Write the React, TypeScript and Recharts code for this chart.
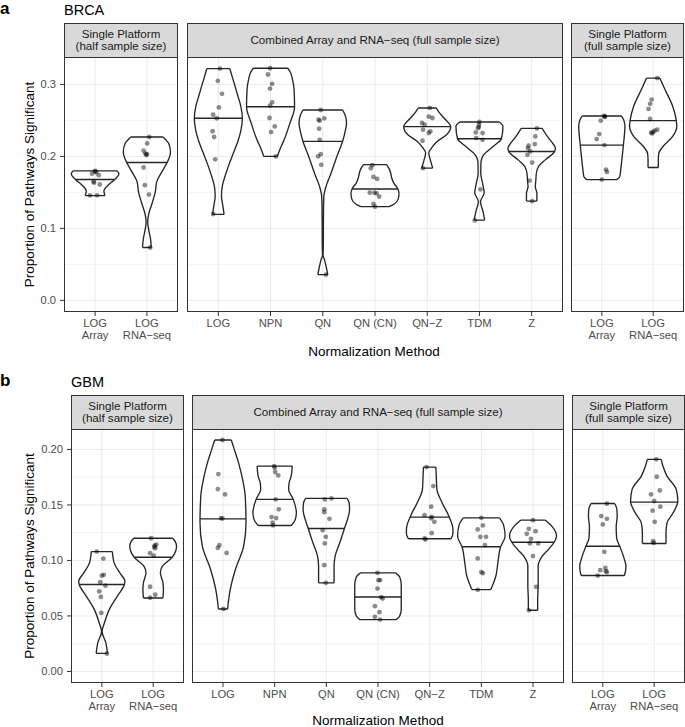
import React from "react";
import { ComposedChart, Line, Scatter, XAxis, YAxis, CartesianGrid } from "recharts";

type Pair = [number, number];

const FONT = "'Liberation Sans', Arial, Helvetica, sans-serif";

// ---------- shared categories ----------
const singleCats = ["LOG\nArray", "LOG\nRNA\u2212seq"];
const combinedCats = ["LOG", "NPN", "QN", "QN (CN)", "QN\u2212Z", "TDM", "Z"];

// ---------- BRCA (panel a) ----------
// violin outlines: [value, half width in category units]
const brcaHalfViolins: Pair[][] = [
  [[0.1455, 0.19], [0.152, 0.17], [0.16, 0.25], [0.168, 0.38], [0.176, 0.46], [0.18, 0.42]],
  [[0.0735, 0.085], [0.085, 0.07], [0.1, 0.03], [0.109, 0.015], [0.12, 0.035], [0.135, 0.1], [0.15, 0.16], [0.165, 0.19], [0.18, 0.3], [0.1915, 0.39], [0.2, 0.44], [0.207, 0.455], [0.218, 0.42], [0.227, 0.31]],
];
const brcaHalfMedians = [0.168, 0.1915];
const brcaHalfMedianW = [0.38, 0.39];
const brcaHalfPoints: Pair[][] = [
  [[0, 0.18], [-0.06, 0.176], [0.07, 0.174], [0.02, 0.178], [-0.02, 0.1636], [0.09, 0.161], [-0.1, 0.146], [0.04, 0.146], [-0.03, 0.165], [0, 0.179]],
  [[0.045, 0.227], [0.006, 0.218], [-0.064, 0.208], [-0.03, 0.204], [0, 0.203], [-0.064, 0.1846], [-0.04, 0.16], [0.04, 0.147], [0.064, 0.0735], [-0.01, 0.202]],
];

const brcaCombViolins: Pair[][] = [
  [[0.1195, 0.11], [0.13, 0.09], [0.145, 0.06], [0.16, 0.08], [0.175, 0.14], [0.19, 0.21], [0.205, 0.29], [0.22, 0.37], [0.235, 0.43], [0.253, 0.46], [0.27, 0.43], [0.285, 0.37], [0.3, 0.31], [0.312, 0.26], [0.322, 0.22]],
  [[0.2, 0.13], [0.21, 0.18], [0.223, 0.26], [0.246, 0.37], [0.269, 0.46], [0.293, 0.45], [0.307, 0.42], [0.317, 0.38], [0.3225, 0.33]],
  [[0.0358, 0.095], [0.045, 0.07], [0.056, 0.035], [0.063, 0.005], [0.075, 0.01], [0.107, 0.012], [0.13, 0.015], [0.144, 0.02], [0.158, 0.06], [0.177, 0.16], [0.2, 0.27], [0.221, 0.38], [0.235, 0.43], [0.2465, 0.455], [0.257, 0.43], [0.2645, 0.38]],
  [[0.1302, 0.27], [0.134, 0.37], [0.14, 0.44], [0.148, 0.46], [0.1548, 0.44], [0.163, 0.36], [0.17, 0.32], [0.177, 0.3], [0.183, 0.27], [0.1887, 0.22]],
  [[0.1837, 0.105], [0.1953, 0.06], [0.2046, 0.03], [0.2115, 0.08], [0.2208, 0.19], [0.2301, 0.37], [0.2413, 0.45], [0.2534, 0.32], [0.262, 0.22], [0.2673, 0.17]],
  [[0.1116, 0.1], [0.1231, 0.07], [0.137, 0.02], [0.1496, 0.09], [0.1626, 0.06], [0.1766, 0.025], [0.1929, 0.03], [0.2022, 0.08], [0.2138, 0.26], [0.2245, 0.42], [0.2417, 0.45], [0.2478, 0.38]],
  [[0.138, 0.1], [0.1487, 0.1], [0.158, 0.07], [0.1673, 0.08], [0.1766, 0.09], [0.1859, 0.13], [0.1952, 0.26], [0.2069, 0.44], [0.2115, 0.455], [0.2185, 0.4], [0.2278, 0.3], [0.2389, 0.2]],
];
const brcaCombMedians = [0.253, 0.269, 0.2208, 0.1548, 0.2413, 0.2245, 0.2069];
const brcaCombMedianW = [0.45, 0.46, 0.38, 0.44, 0.45, 0.42, 0.44];
const brcaCombPoints: Pair[][] = [
  [[0.03, 0.322], [-0.01, 0.305], [0.07, 0.287], [0.01, 0.268], [-0.1, 0.258], [-0.03, 0.253], [-0.11, 0.235], [-0.08, 0.227], [-0.06, 0.196], [-0.1, 0.12]],
  [[-0.01, 0.3225], [-0.05, 0.3138], [0.03, 0.3008], [-0.01, 0.2943], [0.03, 0.2752], [-0.01, 0.2706], [-0.02, 0.2534], [0.08, 0.2417], [0.01, 0.2338], [0.1, 0.2]],
  [[-0.04, 0.2645], [-0.08, 0.251], [0.03, 0.2529], [-0.06, 0.2496], [-0.07, 0.2385], [-0.06, 0.2231], [-0.04, 0.2031], [-0.09, 0.2], [-0.03, 0.1883], [0.06, 0.0358]],
  [[-0.05, 0.1878], [-0.08, 0.1836], [-0.03, 0.1715], [0.04, 0.1687], [-0.1, 0.1497], [-0.01, 0.1497], [0.03, 0.1488], [0.08, 0.1441], [-0.03, 0.1339], [0, 0.1302]],
  [[0.05, 0.2673], [-0.1, 0.2464], [-0.05, 0.2441], [0.03, 0.2552], [0.1, 0.2534], [-0.08, 0.2371], [0.06, 0.2348], [0.03, 0.2325], [-0.09, 0.2218], [-0.08, 0.1837]],
  [[0, 0.2478], [-0.01, 0.2408], [-0.03, 0.2394], [-0.01, 0.2441], [-0.07, 0.2334], [0.06, 0.2324], [-0.06, 0.2255], [0.06, 0.2231], [0.02, 0.1543], [-0.09, 0.1111]],
  [[0.1, 0.2389], [0.07, 0.2278], [-0.06, 0.2148], [-0.07, 0.2115], [0.06, 0.2171], [-0.08, 0.2022], [-0.03, 0.2069], [0.01, 0.1915], [-0.04, 0.1664], [0.01, 0.138]],
];

const brcaFullViolins: Pair[][] = [
  [[0.1678, 0.29], [0.172, 0.35], [0.1767, 0.36], [0.1953, 0.39], [0.2157, 0.42], [0.23, 0.44], [0.2417, 0.45], [0.25, 0.43], [0.2562, 0.38]],
  [[0.1846, 0.1], [0.1952, 0.1], [0.2045, 0.11], [0.2138, 0.19], [0.2278, 0.38], [0.2418, 0.46], [0.2497, 0.45], [0.2697, 0.38], [0.2929, 0.23], [0.3087, 0.13]],
];
const brcaFullMedians = [0.2157, 0.2497];
const brcaFullMedianW = [0.42, 0.45];
const brcaFullPoints: Pair[][] = [
  [[0.04, 0.2562], [-0.02, 0.2497], [0.06, 0.2548], [-0.05, 0.2311], [-0.1, 0.2241], [0.05, 0.2157], [0.08, 0.1818], [0.1, 0.1785], [0, 0.1678], [0.06, 0.2555]],
  [[0.08, 0.3087], [-0.03, 0.279], [-0.06, 0.273], [-0.09, 0.266], [-0.06, 0.252], [-0.04, 0.233], [0.08, 0.2371], [0.03, 0.2357], [-0.02, 0.232], [0, 0.234]],
];

// ---------- GBM (panel b) ----------
const gbmHalfViolins: Pair[][] = [
  [[0.0163, 0.11], [0.0256, 0.08], [0.0361, 0.005], [0.0436, 0.05], [0.0557, 0.145], [0.0677, 0.3], [0.0783, 0.44], [0.0812, 0.45], [0.0888, 0.35], [0.0978, 0.24], [0.108, 0.205]],
  [[0.0662, 0.19], [0.0738, 0.2], [0.0798, 0.19], [0.0888, 0.14], [0.0948, 0.18], [0.1029, 0.37], [0.1128, 0.455], [0.117, 0.43], [0.12, 0.38]],
];
const gbmHalfMedians = [0.0783, 0.1029];
const gbmHalfMedianW = [0.44, 0.37];
const gbmHalfPoints: Pair[][] = [
  [[-0.1, 0.108], [0.03, 0.1017], [0, 0.0864], [0.04, 0.087], [-0.03, 0.0804], [0.07, 0.0773], [-0.05, 0.0722], [-0.02, 0.0671], [-0.01, 0.0527], [0.1, 0.016]],
  [[-0.04, 0.12], [0.06, 0.1143], [0.03, 0.1134], [0.04, 0.111], [-0.06, 0.1065], [0.01, 0.1044], [-0.06, 0.0763], [0.04, 0.0691], [-0.06, 0.0664], [0.02, 0.1122]],
];

const gbmCombViolins: Pair[][] = [
  [[0.0563, 0.09], [0.065, 0.11], [0.0737, 0.14], [0.0918, 0.24], [0.1128, 0.4], [0.1339, 0.445], [0.158, 0.43], [0.175, 0.37], [0.1881, 0.3], [0.1998, 0.22], [0.2085, 0.16]],
  [[0.1315, 0.32], [0.137, 0.4], [0.143, 0.42], [0.155, 0.36], [0.164, 0.27], [0.17, 0.28], [0.176, 0.32], [0.185, 0.34]],
  [[0.0798, 0.15], [0.0948, 0.15], [0.1038, 0.17], [0.1159, 0.26], [0.1288, 0.35], [0.146, 0.45], [0.152, 0.44], [0.1559, 0.4]],
  [[0.0467, 0.35], [0.05, 0.42], [0.056, 0.45], [0.0671, 0.45], [0.078, 0.45], [0.085, 0.42], [0.0888, 0.34]],
  [[0.1195, 0.41], [0.124, 0.45], [0.128, 0.45], [0.139, 0.38], [0.152, 0.24], [0.164, 0.14], [0.173, 0.13], [0.1841, 0.12]],
  [[0.0737, 0.18], [0.0768, 0.21], [0.0858, 0.28], [0.0978, 0.32], [0.1119, 0.37], [0.1219, 0.46], [0.132, 0.43], [0.1384, 0.35]],
  [[0.0551, 0.09], [0.0648, 0.09], [0.0768, 0.1], [0.0888, 0.1], [0.0948, 0.1], [0.1038, 0.18], [0.11, 0.3], [0.1164, 0.41], [0.1219, 0.455], [0.13, 0.38], [0.1363, 0.24]],
];
const gbmCombMedians = [0.1375, 0.155, 0.1288, 0.0671, 0.139, 0.1123, 0.1164];
const gbmCombMedianW = [0.445, 0.36, 0.35, 0.45, 0.38, 0.37, 0.41];
const gbmCombPoints: Pair[][] = [
  [[-0.01, 0.2085], [-0.09, 0.1778], [-0.1, 0.1643], [0.04, 0.1595], [-0.04, 0.1381], [-0.01, 0.1378], [-0.07, 0.1137], [-0.1, 0.1113], [0.07, 0.1068], [0.01, 0.0563]],
  [[-0.01, 0.185], [0.01, 0.1796], [0.07, 0.1766], [0.02, 0.155], [0.08, 0.146], [-0.06, 0.1391], [0.03, 0.1382], [-0.03, 0.1315], [-0.04, 0.134], [0, 0.1835]],
  [[-0.03, 0.155], [0.1, 0.1559], [-0.04, 0.146], [-0.04, 0.1435], [0.06, 0.1375], [-0.07, 0.1273], [-0.01, 0.1213], [-0.03, 0.1153], [-0.04, 0.0957], [-0.01, 0.0798]],
  [[-0.01, 0.0888], [0.01, 0.0822], [0.04, 0.0822], [-0.01, 0.0747], [0.06, 0.0669], [0.09, 0.0657], [-0.06, 0.0588], [0.03, 0.0534], [-0.06, 0.0492], [0.04, 0.0467]],
  [[-0.06, 0.1841], [0.07, 0.167], [0.03, 0.1484], [-0.1, 0.1408], [0.04, 0.1393], [0.09, 0.1348], [0.04, 0.1246], [-0.1, 0.1198], [-0.08, 0.1189], [0.03, 0.138]],
  [[0, 0.1384], [-0.07, 0.1279], [0.03, 0.1315], [-0.02, 0.1213], [0.09, 0.1213], [0.07, 0.1138], [-0.07, 0.1018], [0, 0.0894], [0.03, 0.0885], [-0.07, 0.0735]],
  [[0, 0.1363], [-0.08, 0.1285], [0.05, 0.1264], [-0.12, 0.124], [-0.04, 0.1195], [-0.06, 0.1153], [0.1, 0.1153], [0, 0.1039], [0.06, 0.0762], [-0.08, 0.0551]],
];

const gbmFullViolins: Pair[][] = [
  [[0.0864, 0.42], [0.09, 0.44], [0.095, 0.45], [0.101, 0.42], [0.1128, 0.33], [0.12, 0.27], [0.13, 0.26], [0.14, 0.28], [0.147, 0.27], [0.1513, 0.23]],
  [[0.1153, 0.23], [0.1249, 0.23], [0.1339, 0.25], [0.1429, 0.37], [0.1535, 0.46], [0.164, 0.43], [0.176, 0.25], [0.185, 0.17], [0.1911, 0.135]],
];
const gbmFullMedians = [0.1128, 0.1525];
const gbmFullMedianW = [0.33, 0.46];
const gbmFullPoints: Pair[][] = [
  [[0.08, 0.1511], [-0.03, 0.14], [0.08, 0.1375], [0, 0.1324], [0.03, 0.1078], [-0.05, 0.0912], [0.05, 0.0933], [0.06, 0.0903], [-0.1, 0.0864], [0.08, 0.0894]],
  [[0.04, 0.1911], [0.05, 0.1754], [-0.06, 0.1595], [0.11, 0.1631], [0, 0.1535], [0.12, 0.1484], [-0.03, 0.1448], [0.01, 0.1348], [-0.02, 0.1173], [-0.01, 0.1158]],
];

// y axes
const brcaYDomain: Pair = [-0.0161, 0.3381];
const brcaYTicks = [0, 0.1, 0.2, 0.3];
const brcaYMinor = [0.05, 0.15, 0.25];
const gbmYDomain: Pair = [-0.0104, 0.2184];
const gbmYTicks = [0, 0.05, 0.1, 0.15, 0.2];
const gbmYMinor = [0.025, 0.075, 0.125, 0.175];

const stripLabels = [
  ["Single Platform", "(half sample size)"],
  ["Combined Array and RNA\u2212seq (full sample size)"],
  ["Single Platform", "(full sample size)"],
];

const Y_W = 40;
const X_H = 34;
const INK = "#262626";

function outlineData(violins: Pair[][], medians: number[], medW: number[]) {
  const out: { x: number; y: number | null }[] = [];
  violins.forEach((prof, i) => {
    const c = i + 1;
    const gap = { x: c, y: null };
    prof.forEach(([v, w]) => out.push({ x: c - w, y: v }));
    out.push(gap);
    prof.forEach(([v, w]) => out.push({ x: c + w, y: v }));
    out.push(gap);
    const [v0, w0] = prof[0];
    const [v1, w1] = prof[prof.length - 1];
    out.push({ x: c - w0, y: v0 }, { x: c + w0, y: v0 }, gap);
    out.push({ x: c - w1, y: v1 }, { x: c + w1, y: v1 }, gap);
    out.push({ x: c - medW[i], y: medians[i] }, { x: c + medW[i], y: medians[i] }, gap);
  });
  return out;
}

function pointData(points: Pair[][]) {
  return points.flatMap((ps, i) => ps.map(([dx, v]) => ({ x: i + 1 + dx, y: v })));
}

const Dot = (p: any) => <circle cx={p.cx} cy={p.cy} r={2.4} fill="#000" fillOpacity={0.45} />;

function CatTick(props: any) {
  const { x, y, payload, cats } = props;
  const lines: string[] = cats[Math.round(payload.value) - 1].split("\n");
  return (
    <text x={x} y={y} textAnchor="middle" fill="#4d4d4d" fontSize={11.2} fontFamily={FONT}>
      {lines.map((l, i) => (
        <tspan key={i} x={x} dy={i === 0 ? "0.71em" : "1.12em"}>
          {l}
        </tspan>
      ))}
    </text>
  );
}

function Facet(props: {
  left: number; width: number; top: number; height: number; showY: boolean;
  cats: string[]; violins: Pair[][]; medians: number[]; medW: number[]; points: Pair[][];
  yDomain: Pair; yTicks: number[]; yMinor: number[]; digits: number;
}) {
  const { left, width, top, height, showY, cats, violins, medians, medW, points } = props;
  const n = cats.length;
  const xs = cats.map((_, i) => i + 1);
  const yw = showY ? Y_W : 0;
  return (
    <div style={{ position: "absolute", left: left - yw, top }}>
      <ComposedChart width={width + yw} height={height + X_H} margin={{ top: 0, right: 0, bottom: 0, left: 0 }}>
        <CartesianGrid horizontalValues={props.yMinor} vertical={false} stroke="#ebebeb" strokeWidth={0.6} />
        <CartesianGrid horizontalValues={props.yTicks} verticalValues={xs} stroke="#ebebeb" strokeWidth={1} />
        <XAxis
          type="number" dataKey="x" domain={[0.4, n + 0.6]} ticks={xs} interval={0}
          allowDataOverflow axisLine={false} tickSize={4} tickMargin={3}
          tickLine={{ stroke: "#333" }} height={X_H}
          tick={(p: any) => <CatTick {...p} cats={cats} />}
        />
        <YAxis
          type="number" dataKey="y" domain={props.yDomain} ticks={props.yTicks} allowDataOverflow
          hide={!showY} width={Y_W} axisLine={false} tickSize={4} tickMargin={4}
          tickLine={{ stroke: "#333" }}
          tickFormatter={(v: number) => v.toFixed(props.digits)}
          tick={{ fontSize: 11.2, fill: "#4d4d4d", fontFamily: FONT }}
        />
        <Line
          data={outlineData(violins, medians, medW)} dataKey="y" type="monotoneY"
          stroke={INK} strokeWidth={1.35} dot={false} activeDot={false}
          connectNulls={false} isAnimationActive={false}
        />
        <Scatter data={pointData(points)} shape={Dot} isAnimationActive={false} />
      </ComposedChart>
    </div>
  );
}

const STRIP_H = 34;

function Panel(props: {
  letter: string; title: string; stripTop: number; plotTop: number; plotH: number;
  facets: Pair[]; sets: { cats: string[]; violins: Pair[][]; medians: number[]; medW: number[]; points: Pair[][] }[];
  yDomain: Pair; yTicks: number[]; yMinor: number[]; digits: number; xTitleY: number;
}) {
  const { facets, stripTop, plotTop, plotH } = props;
  const plotL = facets[0][0];
  const plotR = facets[2][1];
  const midY = plotTop + plotH / 2;
  return (
    <>
      <svg width={685} height={727} style={{ position: "absolute", left: 0, top: 0 }} fontFamily={FONT}>
        <text x={0} y={stripTop - 9} fontSize={17} fontWeight="bold" fill="#000">{props.letter}</text>
        <text x={plotL} y={stripTop - 8.5} fontSize={14.5} fill="#000">{props.title}</text>
        {facets.map(([l, r], i) => {
          const lines = stripLabels[i];
          const cx = (l + r) / 2;
          const cy = stripTop + STRIP_H / 2;
          return (
            <g key={i}>
              <rect x={l + 0.5} y={stripTop + 0.5} width={r - l - 1} height={STRIP_H} fill="#d9d9d9" stroke="#333" strokeWidth={1} />
              {lines.map((t, j) => (
                <text key={j} x={cx} y={cy + 4 + (j - (lines.length - 1) / 2) * 12.5} textAnchor="middle" fontSize={11.6} fill="#1a1a1a">{t}</text>
              ))}
            </g>
          );
        })}
        <text x={34} y={midY} transform={`rotate(-90 34 ${midY})`} textAnchor="middle" fontSize={13.5} fill="#000">
          Proportion of Pathways Significant
        </text>
        <text x={(plotL + plotR) / 2} y={props.xTitleY} textAnchor="middle" fontSize={13.5} fill="#000">
          Normalization Method
        </text>
      </svg>
      {facets.map(([l, r], i) => (
        <Facet
          key={i} left={l} width={r - l} top={plotTop} height={plotH} showY={i === 0}
          {...props.sets[i]} yDomain={props.yDomain} yTicks={props.yTicks} yMinor={props.yMinor} digits={props.digits}
        />
      ))}
      <svg width={685} height={727} style={{ position: "absolute", left: 0, top: 0, pointerEvents: "none" }}>
        {facets.map(([l, r], i) => (
          <rect key={i} x={l + 0.5} y={plotTop + 0.5} width={r - l - 1} height={plotH - 1} fill="none" stroke="#333" strokeWidth={1} />
        ))}
      </svg>
    </>
  );
}

export default function App() {
  return (
    <div style={{ position: "absolute", left: 0, top: 0, width: 685, height: 727, background: "#fff", overflow: "hidden" }}>
      <Panel
        letter="a" title="BRCA" stripTop={23} plotTop={57} plotH={255}
        facets={[[64, 178], [187, 563], [571, 684]]}
        sets={[
          { cats: singleCats, violins: brcaHalfViolins, medians: brcaHalfMedians, medW: brcaHalfMedianW, points: brcaHalfPoints },
          { cats: combinedCats, violins: brcaCombViolins, medians: brcaCombMedians, medW: brcaCombMedianW, points: brcaCombPoints },
          { cats: singleCats, violins: brcaFullViolins, medians: brcaFullMedians, medW: brcaFullMedianW, points: brcaFullPoints },
        ]}
        yDomain={brcaYDomain} yTicks={brcaYTicks} yMinor={brcaYMinor} digits={1} xTitleY={356}
      />
      <Panel
        letter="b" title="GBM" stripTop={395} plotTop={429} plotH={254}
        facets={[[71, 184], [192, 564], [572, 685]]}
        sets={[
          { cats: singleCats, violins: gbmHalfViolins, medians: gbmHalfMedians, medW: gbmHalfMedianW, points: gbmHalfPoints },
          { cats: combinedCats, violins: gbmCombViolins, medians: gbmCombMedians, medW: gbmCombMedianW, points: gbmCombPoints },
          { cats: singleCats, violins: gbmFullViolins, medians: gbmFullMedians, medW: gbmFullMedianW, points: gbmFullPoints },
        ]}
        yDomain={gbmYDomain} yTicks={gbmYTicks} yMinor={gbmYMinor} digits={2} xTitleY={725}
      />
    </div>
  );
}
